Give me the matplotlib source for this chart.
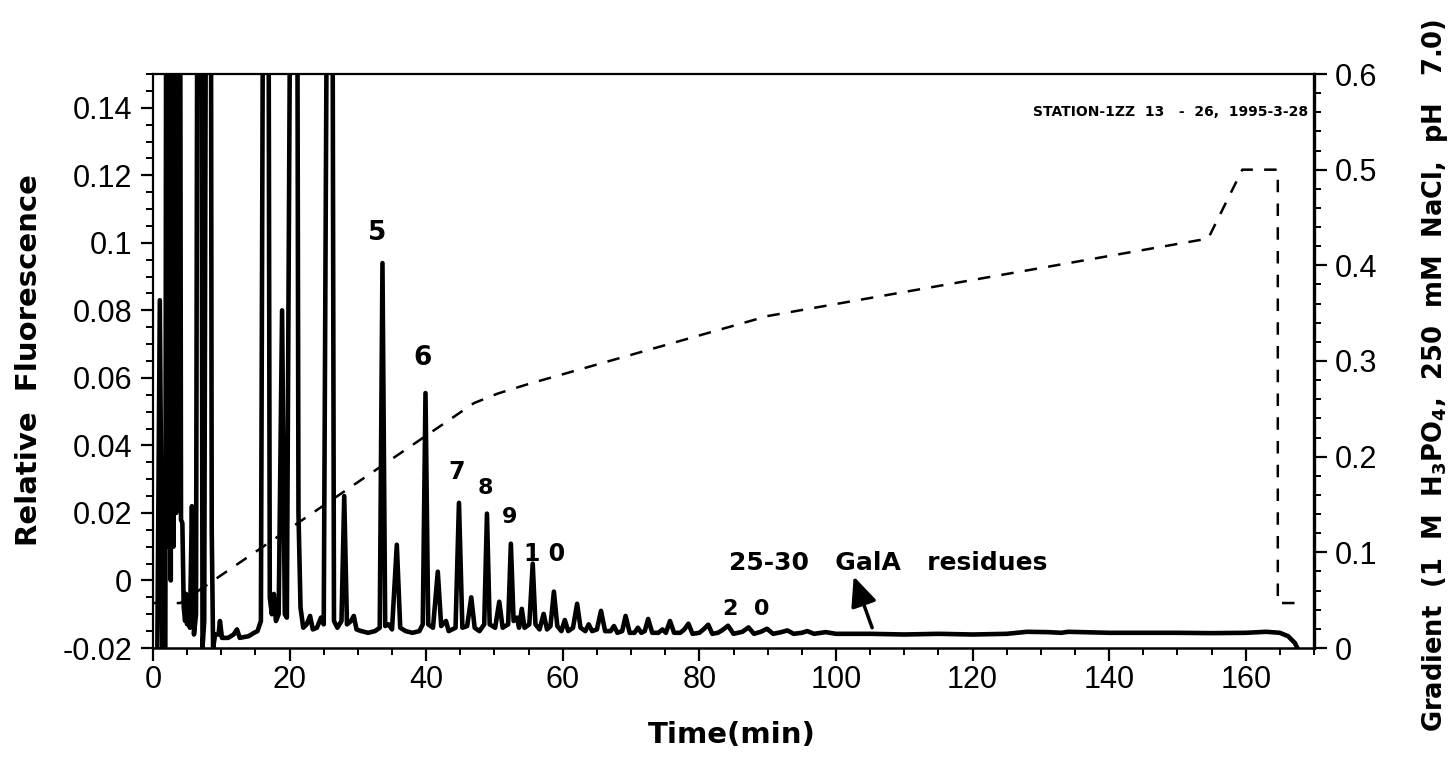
import matplotlib
matplotlib.use("Agg")
import matplotlib.pyplot as plt
from matplotlib.ticker import MultipleLocator, FixedLocator

plt.rcParams['font.family'] = ['Liberation Sans', 'DejaVu Sans']
plt.rcParams['mathtext.fontset'] = 'custom'
plt.rcParams['mathtext.rm'] = 'DejaVu Sans:bold'
plt.rcParams['mathtext.bf'] = 'DejaVu Sans:bold'

# ---------------- data ----------------
time_min = [0.6, 1.0, 1.4, 1.8, 2.0, 2.2, 2.4, 2.6, 2.8, 3.0, 3.2, 3.4, 3.6, 3.9, 4.1, 4.3, 4.5,
            4.7, 4.85, 5.0, 5.2, 5.4, 5.7, 6.0, 6.3, 6.6, 7.0, 7.25, 7.5, 7.9, 8.4,
            8.6, 8.8, 9.1, 9.6, 9.8, 10.1, 11.0, 11.8, 12.3, 12.7, 14.0, 14.8, 15.3,
            15.8, 16.3, 16.8, 17.1, 17.4, 17.7, 18.0, 18.4, 18.9, 19.3, 19.6, 20.4,
            21.0, 21.3, 21.6, 22.0, 22.5, 23.0, 23.4, 24.0, 24.6, 25.0, 25.75, 26.15,
            26.5, 27.0, 27.6, 28.0, 28.4, 29.0, 29.4, 29.8, 30.5, 31.5, 32.5, 33.2,
            33.6, 34.0, 34.5, 35.0, 35.7, 36.2, 37.0, 38.0, 39.0, 39.5, 39.9, 40.3,
            41.0, 41.7, 42.2, 42.9, 43.3, 44.3, 44.8, 45.3, 46.0, 46.6, 47.1, 47.8,
            48.5, 48.9, 49.3, 50.1, 50.7, 51.2, 52.0, 52.4, 52.8, 53.3, 53.6, 54.0,
            54.4, 55.1, 55.6, 56.0, 56.6, 57.2, 57.7, 58.2, 58.7, 59.2, 59.8, 60.3,
            60.8, 61.5, 62.1, 62.6, 63.3, 63.8, 64.3, 65.0, 65.6, 66.2, 67.0, 67.5,
            68.0, 68.7, 69.2, 69.8, 70.5, 71.0, 71.5, 72.0, 72.5, 73.1, 74.0, 74.6,
            75.1, 75.7, 76.3, 77.2, 77.8, 78.4, 79.0, 80.0, 80.6, 81.3, 81.9, 82.7,
            83.3, 84.2, 85.0, 86.3, 87.2, 88.0, 89.0, 89.9, 90.8, 92.0, 92.9, 93.8,
            95.0, 95.8, 96.8, 98.5, 100.0, 105.0, 110.0, 115.0, 120.0, 125.0, 128.0,
            131.0, 133.0, 134.0, 140.0, 150.0, 155.0, 160.0, 163.0, 165.0, 166.2,
            167.2, 167.8, 168.2]
fluorescence = [-0.03, 0.083, -0.03, -0.03, 0.3, 0.01, 0.3, 0.0, 0.3, 0.01, 0.3, 0.02, 0.3, 0.3,
                0.018, 0.017, -0.008, -0.012, -0.004, -0.013, -0.006, -0.014, 0.022, -0.016,
                -0.01, 0.3, 0.3, -0.02, -0.012, 0.3, 0.3, 0.015, -0.02, -0.016, -0.016,
                -0.012, -0.017, -0.017, -0.016, -0.0145, -0.017, -0.0165, -0.0155,
                -0.015, -0.012, 0.3, 0.3, -0.005, -0.01, -0.004, -0.012, -0.01, 0.080,
                -0.01, -0.011, 0.3, 0.3, 0.02, -0.008, -0.014, -0.013, -0.0105,
                -0.0145, -0.014, -0.011, -0.013, 0.3, 0.3, -0.012, -0.014, -0.012,
                0.025, -0.013, -0.012, -0.0105, -0.0145, -0.015, -0.0155, -0.015,
                -0.014, 0.094, -0.0135, -0.013, -0.0145, 0.0106, -0.014, -0.015,
                -0.0155, -0.015, -0.013, 0.0555, -0.013, -0.014, 0.0026, -0.0135,
                -0.012, -0.015, -0.014, 0.023, -0.014, -0.0135, -0.005, -0.014, -0.015,
                -0.013, 0.0198, -0.013, -0.014, -0.0063, -0.014, -0.013, 0.0109,
                -0.012, -0.011, -0.014, -0.0084, -0.014, -0.013, 0.005, -0.013,
                -0.0145, -0.0099, -0.0145, -0.0135, -0.0033, -0.0135, -0.015, -0.0117,
                -0.015, -0.014, -0.0069, -0.014, -0.015, -0.013, -0.015, -0.0145,
                -0.009, -0.015, -0.015, -0.0135, -0.0155, -0.015, -0.0105, -0.0155,
                -0.0155, -0.014, -0.0155, -0.015, -0.0114, -0.0155, -0.0155, -0.0145,
                -0.0155, -0.012, -0.0155, -0.0155, -0.0145, -0.0128, -0.0158, -0.0155,
                -0.0145, -0.0131, -0.0158, -0.0155, -0.0148, -0.0134, -0.0158, -0.0152,
                -0.0139, -0.0158, -0.0152, -0.0143, -0.0158, -0.0153, -0.0148, -0.0158,
                -0.0155, -0.015, -0.0158, -0.0153, -0.0158, -0.0158, -0.016, -0.0158,
                -0.016, -0.0158, -0.0152, -0.0153, -0.0155, -0.0152, -0.0155, -0.0155,
                -0.0156, -0.0155, -0.0152, -0.0155, -0.0165, -0.0185, -0.021, -0.025]

grad_time = [0.0, 4.0, 47.0, 50.5, 55.0, 90.0, 154.5, 159.5, 164.7, 164.7, 168.0]
grad_level = [0.047, 0.047, 0.256, 0.266, 0.276, 0.347, 0.428, 0.500, 0.500, 0.047, 0.047]

x_ticks = [0, 20, 40, 60, 80, 100, 120, 140, 160]
y_ticks = [-0.02, 0.0, 0.02, 0.04, 0.06, 0.08, 0.1, 0.12, 0.14]
y_tick_labels = ['-0.02', '0', '0.02', '0.04', '0.06', '0.08', '0.1', '0.12', '0.14']
g_ticks = [0.0, 0.1, 0.2, 0.3, 0.4, 0.5, 0.6]
g_tick_labels = ['0', '0.1', '0.2', '0.3', '0.4', '0.5', '0.6']

peak_labels = ['5', '6', '7', '8', '9', '1 0', '2  0']
peak_label_t = [32.8, 39.4, 44.4, 48.7, 52.2, 57.3, 86.9]
peak_label_v = [0.103, 0.066, 0.032, 0.0273, 0.0189, 0.0077, -0.0084]
peak_label_size = [19, 19, 17, 16, 16, 17, 16]

# ---------------- figure ----------------
W, H = 1455, 757
fig = plt.figure(figsize=(W / 100, H / 100), dpi=100)
L, R, T, B = 153, 1314, 74, 648
ax = fig.add_axes([L / W, 1 - B / H, (R - L) / W, (B - T) / H])
ax2 = ax.twinx()

ax.plot(time_min, fluorescence, color='black', lw=3.3, solid_joinstyle='round', zorder=3)
ax2.plot(grad_time, grad_level, color='black', lw=1.8, dashes=(5, 4.5), zorder=2)

ax.set_xlim(0, 170)
ax.set_ylim(-0.02, 0.15)
ax2.set_ylim(0, 0.6)

ax.xaxis.set_major_locator(FixedLocator(x_ticks))
ax.xaxis.set_minor_locator(MultipleLocator(5))
ax.set_xticklabels([str(v) for v in x_ticks])
ax.yaxis.set_major_locator(FixedLocator(y_ticks))
ax.yaxis.set_minor_locator(MultipleLocator(0.005))
ax.set_yticklabels(y_tick_labels)
ax2.yaxis.set_major_locator(FixedLocator(g_ticks))
ax2.yaxis.set_minor_locator(MultipleLocator(0.02))
ax2.set_yticklabels(g_tick_labels)

for a in (ax, ax2):
    a.tick_params(which='major', direction='out', length=9, width=1.6, labelsize=22)
    a.tick_params(which='minor', direction='out', length=5, width=1.4)
ax.tick_params(axis='x', pad=3)
ax.tick_params(axis='y', pad=6)
ax2.tick_params(axis='y', pad=6)
ax.tick_params(right=False, top=False)

ax.spines['left'].set_linewidth(1.6)
ax.spines['bottom'].set_linewidth(1.8)
ax.spines['top'].set_linewidth(1.6)
ax.spines['right'].set_visible(False)
for s in ('left', 'top', 'bottom'):
    ax2.spines[s].set_visible(False)
ax2.spines['right'].set_linewidth(2.4)

# peak labels
for txt, t, v, fs in zip(peak_labels, peak_label_t, peak_label_v, peak_label_size):
    ax.text(t, v, txt, ha='center', va='center', fontsize=fs, fontweight='bold',
            family='DejaVu Sans', zorder=5)

ax.text(84.3, 0.0052, '25-30   GalA   residues', ha='left', va='center',
        fontsize=18, fontweight='bold', family='DejaVu Sans', zorder=5)
ax.annotate('', xy=(102.6, 0.0012), xytext=(105.3, -0.0140),
            arrowprops=dict(arrowstyle='-|>,head_length=0.9,head_width=0.4',
                            lw=2.5, color='black', mutation_scale=20,
                            shrinkA=0, shrinkB=0), zorder=5)

ax.text(0.995, (B - 112) / (B - T), 'STATION-1ZZ  13   -  26,  1995-3-28',
        transform=ax.transAxes, ha='right', va='center', fontsize=10,
        fontweight='bold', family='DejaVu Sans')

fig.text(29 / W, 1 - 360 / H, 'Relative  Fluorescence', rotation=90, ha='center',
         va='center', fontsize=21, fontweight='bold', family='DejaVu Sans')
fig.text(732 / W, 1 - 735 / H, 'Time(min)', ha='center', va='center', fontsize=21,
         fontweight='bold', family='DejaVu Sans')
fig.text(1435 / W, 1 - 375 / H,
         r'Gradient  (1  M  H$_{3}$PO$_{4}$,  250  mM  NaCl,  pH   7.0)',
         rotation=90, ha='center', va='center', fontsize=18.5, fontweight='bold',
         family='DejaVu Sans')

fig.savefig('out.png', dpi=100)
